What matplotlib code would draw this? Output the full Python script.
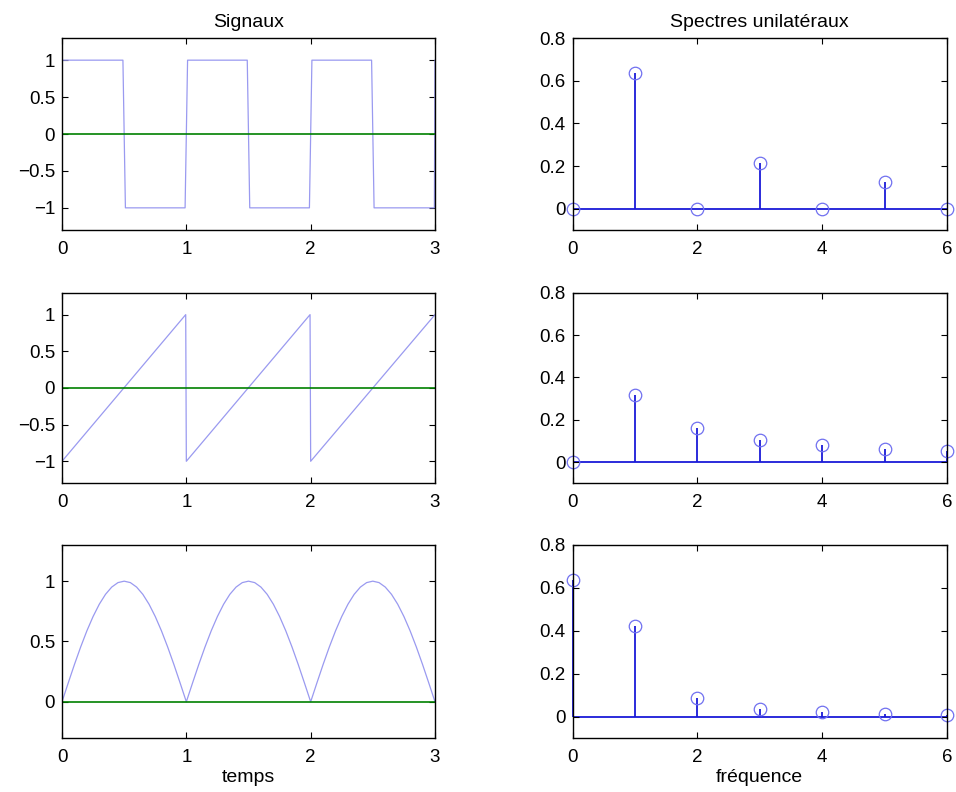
import matplotlib
matplotlib.use("Agg")
import matplotlib.pyplot as plt

plt.rcParams['font.family'] = ['Liberation Sans', 'DejaVu Sans']

# ---- time signals ----
sq_t = [0, 0.49, 0.51, 0.99, 1.01, 1.49, 1.51, 1.99, 2.01, 2.49, 2.51, 2.995, 3.0]
sq_y = [1, 1, -1, -1, 1, 1, -1, -1, 1, 1, -1, -1, 1]

saw_t = [0, 0.995, 1.0, 1.995, 2.0, 3.0]
saw_y = [-1, 1, -1, 1, -1, 1]

rs_t = [0.00, 0.05, 0.10, 0.15, 0.20, 0.25, 0.30, 0.35, 0.40, 0.45, 0.50,
        0.55, 0.60, 0.65, 0.70, 0.75, 0.80, 0.85, 0.90, 0.95, 1.00,
        1.05, 1.10, 1.15, 1.20, 1.25, 1.30, 1.35, 1.40, 1.45, 1.50,
        1.55, 1.60, 1.65, 1.70, 1.75, 1.80, 1.85, 1.90, 1.95, 2.00,
        2.05, 2.10, 2.15, 2.20, 2.25, 2.30, 2.35, 2.40, 2.45, 2.50,
        2.55, 2.60, 2.65, 2.70, 2.75, 2.80, 2.85, 2.90, 2.95, 3.00]
rs_y = [0.000, 0.156, 0.309, 0.454, 0.588, 0.707, 0.809, 0.891, 0.951, 0.988, 1.000,
        0.988, 0.951, 0.891, 0.809, 0.707, 0.588, 0.454, 0.309, 0.156, 0.000,
        0.156, 0.309, 0.454, 0.588, 0.707, 0.809, 0.891, 0.951, 0.988, 1.000,
        0.988, 0.951, 0.891, 0.809, 0.707, 0.588, 0.454, 0.309, 0.156, 0.000,
        0.156, 0.309, 0.454, 0.588, 0.707, 0.809, 0.891, 0.951, 0.988, 1.000,
        0.988, 0.951, 0.891, 0.809, 0.707, 0.588, 0.454, 0.309, 0.156, 0.000]

# ---- spectra ----
freq = [0, 1, 2, 3, 4, 5, 6]
spec_square = [0.0, 0.637, 0.0, 0.212, 0.0, 0.127, 0.0]
spec_saw = [0.0, 0.318, 0.159, 0.106, 0.080, 0.064, 0.053]
spec_rect = [0.637, 0.424, 0.085, 0.036, 0.020, 0.013, 0.009]

left_titles = "Signaux"
right_title = "Spectres unilatéraux"
xlabel_left = "temps"
xlabel_right = "fréquence"

sig_color = '#9a9af0'
zero_color = '#008000'
stem_color = '#1a1ad8'
mark_color = '#7070f0'
FS = 13.5
TFS = 14

fig = plt.figure(figsize=(9.56, 7.92), dpi=100)

rows = [(0.7096, 0.2424), (0.3898, 0.2407), (0.0682, 0.2437)]
lx, lw = 62/956, 373/956
rx, rw = 572.5/956, 374.5/956

signals = [(sq_t, sq_y, (-1.3, 1.3), [-1, -0.5, 0, 0.5, 1], ['\u22121', '\u22120.5', '0', '0.5', '1']),
           (saw_t, saw_y, (-1.3, 1.3), [-1, -0.5, 0, 0.5, 1], ['\u22121', '\u22120.5', '0', '0.5', '1']),
           (rs_t, rs_y, (-0.3, 1.3), [0, 0.5, 1], ['0', '0.5', '1'])]
spectra = [spec_square, spec_saw, spec_rect]

def style(ax):
    ax.tick_params(direction='in', top=True, right=True, labelsize=FS, length=4,
                   width=0.8)
    ax.tick_params(axis='x', pad=8)
    ax.tick_params(axis='y', pad=5)
    for s in ax.spines.values():
        s.set_linewidth(1.0)

for i, ((b, h), (t, y, yl, yt, ytl), sp) in enumerate(zip(rows, signals, spectra)):
    ax = fig.add_axes([lx, b, lw, h])
    ax.plot(t, y, color=sig_color, lw=0.9)
    ax.plot([0, 3], [0, 0], color=zero_color, lw=1.2)
    ax.set_xlim(0, 3)
    ax.set_ylim(*yl)
    ax.set_xticks([0, 1, 2, 3])
    ax.set_xticklabels(['0', '1', '2', '3'])
    ax.set_yticks(yt)
    ax.set_yticklabels(ytl)
    style(ax)
    if i == 0:
        ax.set_title(left_titles, fontsize=TFS, pad=8)
    if i == 2:
        ax.set_xlabel(xlabel_left, fontsize=TFS, labelpad=2)

    ax2 = fig.add_axes([rx, b, rw, h])
    ml, sl, bl = ax2.stem(freq, sp, basefmt=' ')
    plt.setp(sl, color=stem_color, lw=1.3)
    sl.set_clip_on(False)
    plt.setp(ml, marker='o', markersize=9, markerfacecolor='none',
             markeredgecolor=mark_color, markeredgewidth=0.9)
    ml.set_clip_on(False)
    ax2.plot([0, 6], [0, 0], color=stem_color, lw=1.3, zorder=1)
    ax2.set_xlim(0, 6)
    ax2.set_ylim(-0.1, 0.8)
    ax2.set_xticks([0, 2, 4, 6])
    ax2.set_yticks([0, 0.2, 0.4, 0.6, 0.8])
    ax2.set_yticklabels(['0', '0.2', '0.4', '0.6', '0.8'])
    style(ax2)
    if i == 0:
        ax2.set_title(right_title, fontsize=TFS, pad=8)
    if i == 2:
        ax2.set_xlabel(xlabel_right, fontsize=TFS, labelpad=2)

fig.savefig('out.png', dpi=100)
